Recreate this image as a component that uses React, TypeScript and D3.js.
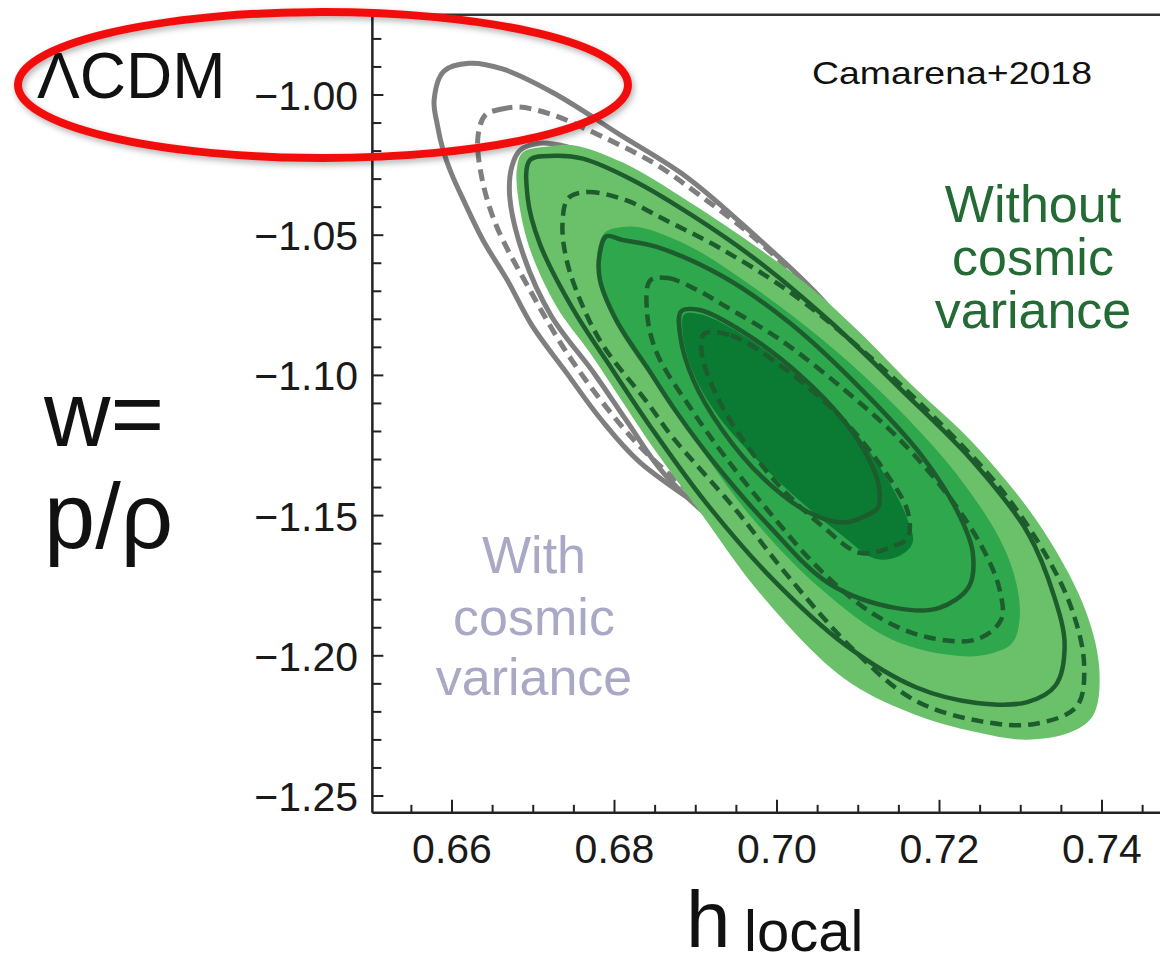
import React from 'react';
import * as d3 from 'd3';

type Pt = [number, number]; // [h_local, w]

// ---- axis ticks ----
const xMajorTicks = [0.66, 0.68, 0.7, 0.72, 0.74];
const xTickLabels = ['0.66', '0.68', '0.70', '0.72', '0.74'];
const yMajorTicks = [-1.0, -1.05, -1.1, -1.15, -1.2, -1.25];
const yTickLabels = ['\u22121.00', '\u22121.05', '\u22121.10', '\u22121.15', '\u22121.20', '\u22121.25'];

// ---- "with cosmic variance" contours (grey lines) ----
const grayOuterSolid: Pt[] = [
  [0.6590, -0.9915], [0.6621, -0.9887], [0.6662, -0.9907], [0.6725, -0.9993], [0.6808, -1.0144],
  [0.6889, -1.0293], [0.6975, -1.0507], [0.7056, -1.0731], [0.7132, -1.1016], [0.7228, -1.1394],
  [0.7310, -1.1810], [0.7319, -1.2037], [0.7237, -1.2024], [0.7080, -1.1822], [0.6948, -1.1550],
  [0.6831, -1.1309], [0.6782, -1.1152], [0.6743, -1.0999], [0.6698, -1.0820], [0.6668, -1.0660],
  [0.6638, -1.0517], [0.6614, -1.0374], [0.6600, -1.0285], [0.6589, -1.0196], [0.6582, -1.0107],
  [0.6578, -1.0018],
];
const grayDashed: Pt[] = [
  [0.6641, -1.0071], [0.6660, -1.0051], [0.6683, -1.0043], [0.6724, -1.0071], [0.6767, -1.0124],
  [0.6848, -1.0242], [0.6905, -1.0358], [0.6968, -1.0499], [0.7037, -1.0686], [0.7119, -1.0953],
  [0.7206, -1.1306], [0.7283, -1.1689], [0.7293, -1.1961], [0.7193, -1.1948], [0.7049, -1.1759],
  [0.6929, -1.1502], [0.6838, -1.1273], [0.6795, -1.1132], [0.6741, -1.0918], [0.6696, -1.0696],
  [0.6654, -1.0462], [0.6636, -1.0285], [0.6632, -1.0147],
];
const grayInnerSolid: Pt[] = [
  [0.6684, -1.0197], [0.6707, -1.0172], [0.6741, -1.0184], [0.6804, -1.0252], [0.6891, -1.0404],
  [0.7006, -1.0676], [0.7129, -1.1024], [0.7241, -1.1407], [0.7306, -1.1772], [0.7310, -1.2011],
  [0.7219, -1.2024], [0.7080, -1.1873], [0.6961, -1.1613], [0.6862, -1.1354], [0.6815, -1.1162],
  [0.6775, -1.0993], [0.6722, -1.0787], [0.6688, -1.0572], [0.6671, -1.0361], [0.6674, -1.0252],
];

// ---- "without cosmic variance" filled regions ----
const fillOuter: Pt[] = [
  [0.6687, -1.0205], [0.6718, -1.0184], [0.6749, -1.0179], [0.6811, -1.0242], [0.6893, -1.0383],
  [0.6975, -1.0542], [0.7041, -1.0686], [0.7103, -1.0850], [0.7163, -1.1026], [0.7246, -1.1255],
  [0.7327, -1.1550], [0.7381, -1.1848], [0.7397, -1.2062], [0.7389, -1.2213], [0.7361, -1.2273],
  [0.7307, -1.2299], [0.7246, -1.2273], [0.7164, -1.2203], [0.7081, -1.2077], [0.6979, -1.1777],
  [0.6906, -1.1490], [0.6841, -1.1230], [0.6811, -1.1099], [0.6770, -1.0920], [0.6729, -1.0756],
  [0.6695, -1.0542], [0.6681, -1.0356], [0.6680, -1.0260],
];
const fillMiddle: Pt[] = [
  [0.6787, -1.0494], [0.6807, -1.0472], [0.6831, -1.0472], [0.6894, -1.0542], [0.6969, -1.0681],
  [0.7058, -1.0877], [0.7149, -1.1119], [0.7230, -1.1386], [0.7283, -1.1638], [0.7299, -1.1838],
  [0.7290, -1.1953], [0.7265, -1.1991], [0.7225, -1.2001], [0.7142, -1.1943], [0.7051, -1.1754],
  [0.6966, -1.1497], [0.6900, -1.1235], [0.6860, -1.1064], [0.6819, -1.0900], [0.6791, -1.0754],
  [0.6778, -1.0620],
];
const fillInner: Pt[] = [
  [0.6886, -1.0782], [0.6908, -1.0784], [0.6963, -1.0865], [0.7029, -1.1011], [0.7091, -1.1185],
  [0.7133, -1.1356], [0.7158, -1.1495], [0.7167, -1.1596], [0.7149, -1.1646], [0.7121, -1.1654],
  [0.7080, -1.1570], [0.7032, -1.1457], [0.6981, -1.1318], [0.6929, -1.1150], [0.6897, -1.0991],
  [0.6884, -1.0852],
];

// ---- dark green line contours ----
const greenSolid2: Pt[] = [
  [0.6696, -1.0232], [0.6726, -1.0217], [0.6761, -1.0227], [0.6822, -1.0303], [0.6898, -1.0434],
  [0.6980, -1.0600], [0.7065, -1.0807], [0.7154, -1.1054], [0.7241, -1.1306], [0.7309, -1.1563],
  [0.7341, -1.1787], [0.7354, -1.1961], [0.7343, -1.2105], [0.7308, -1.2165], [0.7246, -1.2168],
  [0.7171, -1.2112], [0.7084, -1.1961], [0.6993, -1.1722], [0.6912, -1.1452], [0.6846, -1.1190],
  [0.6797, -1.0978], [0.6749, -1.0764], [0.6708, -1.0530], [0.6693, -1.0363],
];
const greenDashed2: Pt[] = [
  [0.6743, -1.0368], [0.6767, -1.0346], [0.6815, -1.0376], [0.6858, -1.0439], [0.6929, -1.0545],
  [0.7015, -1.0701], [0.7102, -1.0903], [0.7192, -1.1145], [0.7276, -1.1407], [0.7332, -1.1646],
  [0.7363, -1.1835], [0.7378, -1.2032], [0.7369, -1.2180], [0.7317, -1.2243], [0.7250, -1.2233],
  [0.7169, -1.2158], [0.7095, -1.1981], [0.7013, -1.1714], [0.6950, -1.1482], [0.6870, -1.1215],
  [0.6841, -1.1099], [0.6787, -1.0898], [0.6761, -1.0754], [0.6741, -1.0588], [0.6736, -1.0459],
];
const greenSolid1: Pt[] = [
  [0.6790, -1.0504], [0.6810, -1.0517], [0.6852, -1.0542], [0.6934, -1.0648], [0.7014, -1.0809],
  [0.7095, -1.1024], [0.7178, -1.1286], [0.7225, -1.1502], [0.7241, -1.1633], [0.7236, -1.1754],
  [0.7199, -1.1830], [0.7147, -1.1830], [0.7065, -1.1744], [0.6989, -1.1533], [0.6924, -1.1316],
  [0.6877, -1.1134], [0.6840, -1.0971], [0.6802, -1.0802], [0.6782, -1.0658], [0.6782, -1.0562],
];
const greenDashed1: Pt[] = [
  [0.6844, -1.0661], [0.6866, -1.0653], [0.6902, -1.0696], [0.6935, -1.0751], [0.7006, -1.0877],
  [0.7084, -1.1054], [0.7149, -1.1223], [0.7213, -1.1437], [0.7254, -1.1621], [0.7274, -1.1764],
  [0.7276, -1.1870], [0.7246, -1.1941], [0.7184, -1.1933], [0.7121, -1.1855], [0.7054, -1.1696],
  [0.6989, -1.1482], [0.6935, -1.1286], [0.6893, -1.1114], [0.6852, -1.0920], [0.6840, -1.0774],
];
const greenSolid0: Pt[] = [
  [0.6882, -1.0772], [0.6905, -1.0767], [0.6962, -1.0852], [0.7031, -1.1006], [0.7082, -1.1160],
  [0.7110, -1.1281], [0.7125, -1.1389], [0.7124, -1.1472], [0.7112, -1.1497], [0.7082, -1.1525],
  [0.7040, -1.1490], [0.6982, -1.1364], [0.6932, -1.1192], [0.6897, -1.1016], [0.6881, -1.0860],
];
const greenDashed0: Pt[] = [
  [0.6910, -1.0852], [0.6943, -1.0857], [0.7008, -1.0973], [0.7082, -1.1160], [0.7136, -1.1356],
  [0.7161, -1.1487], [0.7161, -1.1578], [0.7142, -1.1611], [0.7102, -1.1633], [0.7056, -1.1538],
  [0.7002, -1.1391], [0.6949, -1.1192], [0.6919, -1.1029], [0.6907, -1.0913],
];

// ---- layout ----
const W = 1160;
const H = 966;
const FONT = '"Liberation Sans", Arial, Helvetica, sans-serif';
const x = d3.scaleLinear().domain([0.66, 0.74]).range([452, 1102]);
const y = d3.scaleLinear().domain([-1.0, -1.25]).range([95, 796]);
const X_LEFT = 0.6502;
const X_RIGHT = 0.7505;
const Y_TOP = -0.9714;
const Y_BOTTOM = -1.256;

const xMinor = d3.range(0, 19).map((i) => +(0.655 + i * 0.005).toFixed(3));
const yMinor = d3.range(0, 28).map((i) => +(-0.98 - i * 0.01).toFixed(2));

const COL = {
  fillOuter: '#6bc16a',
  fillMiddle: '#2fa74d',
  fillInner: '#0b7a33',
  greenLine: '#1c5c2d',
  gray: '#7f7f7f',
  greenText: '#246a34',
  grayText: '#a9a9c6',
};

export default function App() {
  const path = d3
    .line<Pt>()
    .x((d) => x(d[0]))
    .y((d) => y(d[1]))
    .curve(d3.curveCatmullRomClosed.alpha(0.5));

  const x0 = x(X_LEFT);
  const x1 = x(X_RIGHT);
  const yT = y(Y_TOP);
  const yB = y(Y_BOTTOM);

  const dash = '12 7';

  return (
    <svg
      width={W}
      height={H}
      viewBox={`0 0 ${W} ${H}`}
      style={{ position: 'absolute', left: 0, top: 0, background: '#fff' }}
    >
      <defs>
        <filter id="sh" x="-10%" y="-30%" width="120%" height="160%">
          <feDropShadow dx="2" dy="3" stdDeviation="3" floodColor="#000" floodOpacity="0.3" />
        </filter>
        <clipPath id="plot">
          <rect x={x0} y={yT} width={x1 - x0} height={yB - yT} />
        </clipPath>
      </defs>
      <rect x={0} y={0} width={W} height={H} fill="#fff" />

      <g clipPath="url(#plot)" strokeLinejoin="round">
        {/* grey: with cosmic variance */}
        <path d={path(grayOuterSolid) || ''} fill="none" stroke={COL.gray} strokeWidth={5} />
        <path d={path(grayDashed) || ''} fill="none" stroke={COL.gray} strokeWidth={5} strokeDasharray={dash} />
        <path d={path(grayInnerSolid) || ''} fill="none" stroke={COL.gray} strokeWidth={5} />

        {/* green fills: without cosmic variance */}
        <path d={path(fillOuter) || ''} fill={COL.fillOuter} />
        <path d={path(fillMiddle) || ''} fill={COL.fillMiddle} />
        <path d={path(fillInner) || ''} fill={COL.fillInner} />

        {/* green lines */}
        <path d={path(greenSolid2) || ''} fill="none" stroke={COL.greenLine} strokeWidth={4.5} />
        <path d={path(greenDashed2) || ''} fill="none" stroke={COL.greenLine} strokeWidth={4.5} strokeDasharray={dash} />
        <path d={path(greenSolid1) || ''} fill="none" stroke={COL.greenLine} strokeWidth={4.5} />
        <path d={path(greenDashed1) || ''} fill="none" stroke={COL.greenLine} strokeWidth={4.5} strokeDasharray={dash} />
        <path d={path(greenSolid0) || ''} fill="none" stroke={COL.greenLine} strokeWidth={4.5} />
        <path d={path(greenDashed0) || ''} fill="none" stroke={COL.greenLine} strokeWidth={4.5} strokeDasharray={dash} />
      </g>

      {/* frame */}
      <line x1={x0} x2={W} y1={yT} y2={yT} stroke="#333" strokeWidth={2.5} />
      <line x1={x0} x2={x0} y1={yT} y2={yB} stroke="#222" strokeWidth={2.5} />
      <line x1={x0} x2={W} y1={yB} y2={yB} stroke="#222" strokeWidth={2.5} />

      {/* x ticks */}
      {xMinor.map((v) => {
        const major = xMajorTicks.some((m) => Math.abs(m - v) < 1e-6);
        return (
          <line key={'xt' + v} x1={x(v)} x2={x(v)} y1={yB} y2={yB - (major ? 13 : 8)} stroke="#222" strokeWidth={2} />
        );
      })}
      {/* y ticks */}
      {yMinor.map((v) => {
        const major = yMajorTicks.some((m) => Math.abs(m - v) < 1e-6);
        return (
          <line key={'yt' + v} x1={x0} x2={x0 + (major ? 11 : 9)} y1={y(v)} y2={y(v)} stroke="#222" strokeWidth={2} />
        );
      })}

      {/* tick labels */}
      {xMajorTicks.map((v, i) => (
        <text key={'xl' + i} x={x(v)} y={863} textAnchor="middle" fontFamily={FONT} fontSize={41} fill="#1a1a1a">
          {xTickLabels[i]}
        </text>
      ))}
      {yMajorTicks.map((v, i) => (
        <text key={'yl' + i} x={358} y={y(v) + 15} textAnchor="end" fontFamily={FONT} fontSize={41} fill="#1a1a1a">
          {yTickLabels[i]}
        </text>
      ))}

      {/* annotations */}
      <text x={812} y={84} fontFamily={FONT} fontSize={32} textLength={280} lengthAdjust="spacingAndGlyphs" fill="#111">
        Camarena+2018
      </text>
      <g fontFamily={FONT} fontSize={52} fill={COL.greenText} textAnchor="middle">
        <text x={1033} y={222}>Without</text>
        <text x={1033} y={275}>cosmic</text>
        <text x={1033} y={328}>variance</text>
      </g>
      <g fontFamily={FONT} fontSize={52} fill={COL.grayText} textAnchor="middle">
        <text x={534} y={573}>With</text>
        <text x={534} y={635}>cosmic</text>
        <text x={534} y={695}>variance</text>
      </g>

      {/* axis titles */}
      <g fontFamily={FONT} fill="#111" fontWeight={300}>
        <text x={44} y={446} fontSize={92}>w=</text>
        <text x={44} y={548} fontSize={92}>p/ρ</text>
        <text x={686} y={947} fontSize={80}>h</text>
        <text x={744} y={951} fontSize={58}>local</text>
        <text x={37} y={98} fontSize={64}>ΛCDM</text>
      </g>

      {/* red highlight ellipse */}
      <ellipse cx={323} cy={85} rx={305} ry={73} fill="none" stroke="#f20d0d" strokeWidth={8} filter="url(#sh)" />
    </svg>
  );
}
